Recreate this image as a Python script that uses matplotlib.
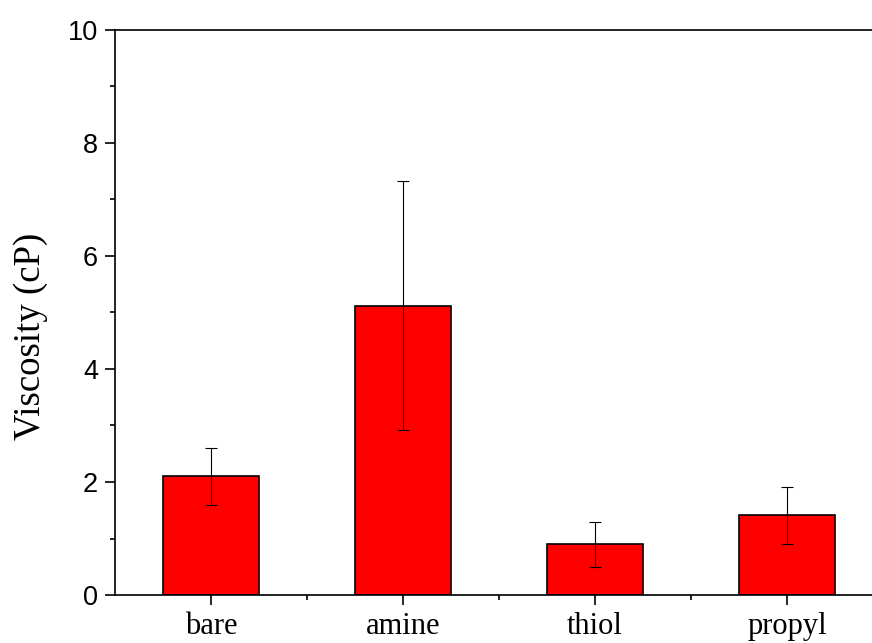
import matplotlib
matplotlib.use("Agg")
import matplotlib.pyplot as plt
from matplotlib.ticker import MultipleLocator, FixedLocator

categories = ["bare", "amine", "thiol", "propyl"]
values = [2.1, 5.12, 0.9, 1.41]
errors = [0.5, 2.2, 0.4, 0.5]

W, H = 872, 643
fig = plt.figure(figsize=(W/100, H/100), dpi=100)
left, right, bottom, top = 115, 115 + 5*192, 595, 30
ax = fig.add_axes([left/W, (H-bottom)/H, (right-left)/W, (bottom-top)/H])

x = list(range(len(categories)))
ax.bar(x, values, width=0.5, color="#ff0000", edgecolor="black", linewidth=1.2, zorder=2)
ax.errorbar(x, values, yerr=errors, fmt="none", ecolor="black", elinewidth=0.8,
            capsize=4.5, capthick=0.8, zorder=3)

ax.set_xlim(-0.5, 4.5)
ax.set_ylim(0, 10)
ax.set_xticks(x)
ax.set_xticklabels(categories, family="Liberation Serif", fontsize=22)
ax.xaxis.set_minor_locator(FixedLocator([0.5, 1.5, 2.5, 3.5]))
ax.set_yticks([0, 2, 4, 6, 8, 10])
ax.set_yticklabels(["0", "2", "4", "6", "8", "10"], family="Liberation Sans", fontsize=19.5)
ax.yaxis.set_minor_locator(MultipleLocator(1))
ax.tick_params(axis="both", which="major", direction="out", length=7.2, width=1.2)
ax.tick_params(axis="both", which="minor", direction="out", length=3.6, width=1.2)
ax.tick_params(axis="x", which="major", pad=5)
ax.tick_params(axis="y", which="major", pad=5)
for s in ax.spines.values():
    s.set_linewidth(1.2)
ax.set_ylabel("Viscosity (cP)", family="Liberation Serif", fontsize=26.5)
ax.yaxis.set_label_coords(-(115 - 31) / (right - left), (595 - 336) / 565)
ax.yaxis.label.set_va("center")

fig.savefig("out.png", dpi=100)
